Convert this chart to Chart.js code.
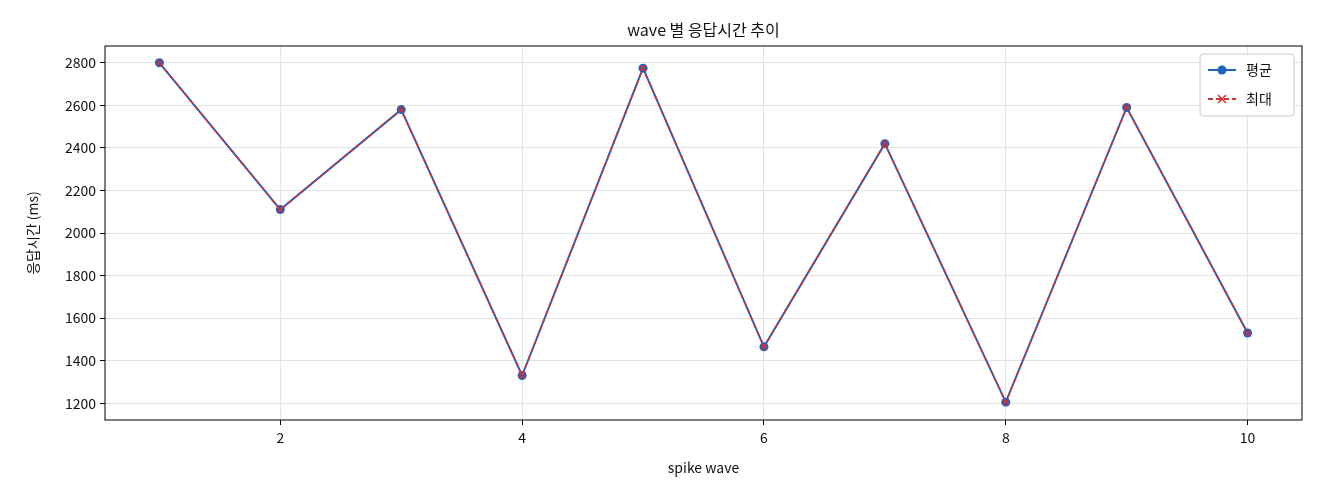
<!DOCTYPE html>
<html><head><meta charset="utf-8">
<script src="https://cdn.jsdelivr.net/npm/chart.js@4"></script>
<style>html,body{margin:0;background:#fff}#w{width:1320px;height:480px}</style>
</head><body><div id="w"><canvas id="c"></canvas></div>
<script>
const waves=[1,2,3,4,5,6,7,8,9,10];
const avgMs=[2800,2110,2580,1330,2775,1465,2420,1205,2590,1530];
const maxMs=[2800,2110,2580,1330,2775,1465,2420,1205,2590,1530];
const xTicks=[2,4,6,8,10];
const yTicks=[1200,1400,1600,1800,2000,2200,2400,2600,2800];
const F="'Noto Sans CJK KR','Noto Sans',sans-serif";
const BLUE='#1f62c0', RED='#d62f2f';
const deco={id:'deco',afterDraw(ch){
  const c=ch.ctx,a=ch.chartArea;c.save();
  c.strokeStyle='#000';c.lineWidth=1;c.strokeRect(a.left,a.top,a.right-a.left,a.bottom-a.top);
  c.fillStyle='#111';c.font='16px '+F;c.textAlign='center';c.textBaseline='middle';
  c.fillText('wave 별 응답시간 추이',(a.left+a.right)/2,30);
  const bx=a.right-102,by=a.top+8,bw=94,bh=62;
  c.fillStyle='rgba(255,255,255,0.9)';c.strokeStyle='#ccc';
  c.beginPath();c.roundRect(bx,by,bw,bh,3);c.fill();c.stroke();
  const items=[['평균',BLUE,[],'c'],['최대',RED,[5,3],'x']];
  items.forEach((it,i)=>{const y=by+16+i*29;
    c.strokeStyle=it[1];c.lineWidth=2;c.setLineDash(it[2]);
    c.beginPath();c.moveTo(bx+8,y);c.lineTo(bx+36,y);c.stroke();c.setLineDash([]);
    c.fillStyle=it[1];
    if(it[3]==='c'){c.beginPath();c.arc(bx+22,y,4.5,0,7);c.fill();}
    else{c.lineWidth=1.5;c.beginPath();c.moveTo(bx+18,y-4);c.lineTo(bx+26,y+4);c.moveTo(bx+26,y-4);c.lineTo(bx+18,y+4);c.stroke();}
    c.fillStyle='#111';c.font='14px '+F;c.textAlign='left';c.fillText(it[0],bx+46,y);
  });
  c.restore();}};
new Chart(document.getElementById('c'),{type:'line',
 data:{datasets:[
  {label:'평균',order:1,data:waves.map((w,i)=>({x:w,y:avgMs[i]})),borderColor:BLUE,backgroundColor:BLUE,borderWidth:2,pointRadius:4.5,pointStyle:'circle',pointBorderWidth:0},
  {label:'최대',order:0,data:waves.map((w,i)=>({x:w,y:maxMs[i]})),borderColor:RED,backgroundColor:RED,borderWidth:1.5,borderDash:[5,3],pointRadius:4,pointStyle:'cross',pointRotation:45,pointBorderWidth:1.5}
 ]},
 options:{responsive:true,maintainAspectRatio:false,animation:false,
  layout:{padding:{top:46,right:18,left:20,bottom:0}},
  plugins:{legend:{display:false},title:{display:false},tooltip:{enabled:false}},
  scales:{
   x:{type:'linear',min:0.55,max:10.45,afterBuildTicks:s=>{s.ticks=xTicks.map(v=>({value:v}))},
      afterFit:s=>{s.height=60},
      grid:{color:'#e3e3e3',drawTicks:true,tickLength:5,tickColor:'#000'},border:{display:false},
      ticks:{color:'#111',font:{family:F,size:14},padding:4,callback:v=>String(v)},
      title:{display:true,text:'spike wave',color:'#111',font:{family:F,size:14},padding:{top:2}}},
   y:{min:1121,max:2879,afterBuildTicks:s=>{s.ticks=yTicks.map(v=>({value:v}))},
      afterFit:s=>{s.width=85},
      grid:{color:'#e3e3e3',tickLength:5,tickColor:'#000'},border:{display:false},
      ticks:{color:'#111',font:{family:F,size:14},padding:4,callback:v=>String(v)},
      title:{display:true,text:'응답시간 (ms)',color:'#111',font:{family:F,size:14},padding:{bottom:4}}}
  }},
 plugins:[deco]});
</script></body></html>
